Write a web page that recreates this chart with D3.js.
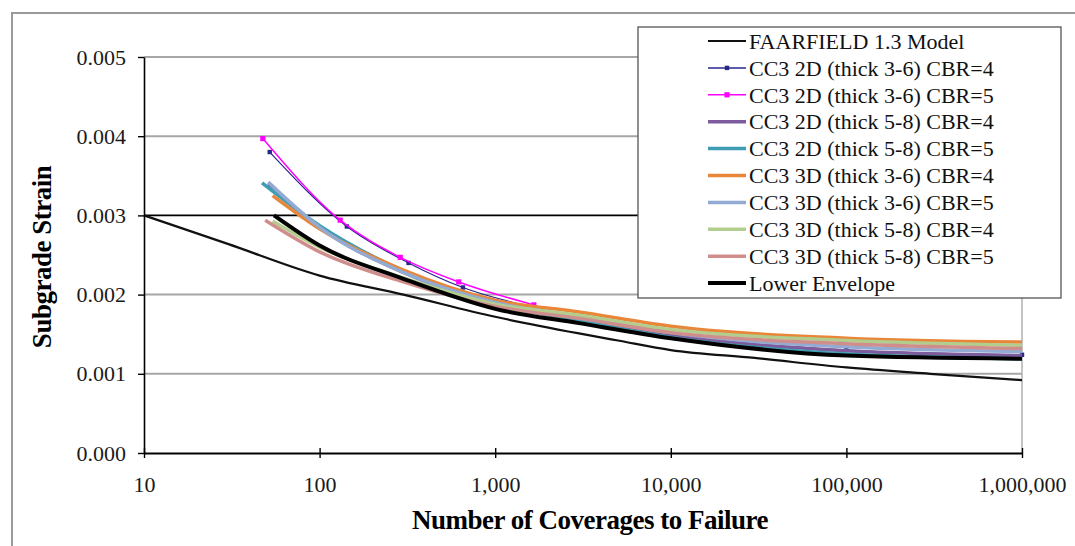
<!DOCTYPE html>
<html>
<head>
<meta charset="utf-8">
<script src="https://cdn.jsdelivr.net/npm/d3@7"></script>
<style>
  body { margin: 0; background: #fff; }
</style>
</head>
<body>
<div class="chart"></div>
<script>
// --- Data ---
const xTicks = [10, 100, 1000, 10000, 100000, 1000000];
const yTicks = [0, 0.001, 0.002, 0.003, 0.004, 0.005];

const faarN = [10, 30, 100, 300, 1000, 3000, 5000, 10000, 30000, 100000, 300000, 1000000];
const faarStrain = [0.00300, 0.00264, 0.00224, 0.00200, 0.00172, 0.00151, 0.00142, 0.00130, 0.00120, 0.00108, 0.00100, 0.00092];

const navyN = [52, 143, 321, 655, 1700, 10000, 100000, 1000000];
const navyStrain = [0.00380, 0.00286, 0.00240, 0.00209, 0.00183, 0.00150, 0.00130, 0.00124];

const magentaN = [47.5, 131, 288, 620, 1660];
const magentaStrain = [0.00397, 0.00294, 0.00247, 0.00216, 0.00187];

const purpleN = [51, 100, 300, 1000, 3000, 10000, 100000, 1000000];
const purpleStrain = [0.00340, 0.00285, 0.00228, 0.00188, 0.00168, 0.00148, 0.00129, 0.00123];

const tealN = [47, 100, 300, 1000, 3000, 10000, 100000, 1000000];
const tealStrain = [0.00341, 0.00287, 0.00230, 0.00190, 0.00167, 0.00146, 0.00125, 0.00119];

const orangeN = [54, 100, 300, 1000, 3000, 10000, 100000, 1000000];
const orangeStrain = [0.00325, 0.00283, 0.00231, 0.00193, 0.00178, 0.00160, 0.00145, 0.00140];

const lightBlueN = [51, 100, 300, 1000, 3000, 10000, 100000, 1000000];
const lightBlueStrain = [0.00342, 0.00285, 0.00228, 0.00190, 0.00172, 0.00152, 0.00134, 0.00128];

const greenN = [54, 100, 300, 1000, 3000, 10000, 100000, 1000000];
const greenStrain = [0.00293, 0.00260, 0.00221, 0.00188, 0.00174, 0.00156, 0.00142, 0.00136];

const pinkN = [49, 100, 300, 1000, 3000, 10000, 100000, 1000000];
const pinkStrain = [0.00294, 0.00254, 0.00216, 0.00185, 0.00170, 0.00152, 0.00138, 0.00132];

const envelopeN = [55, 100, 300, 1000, 3000, 10000, 100000, 1000000];
const envelopeStrain = [0.00300, 0.00262, 0.00220, 0.00182, 0.00164, 0.00145, 0.00123, 0.00119];

const seriesNames = [
  "FAARFIELD 1.3 Model",
  "CC3 2D (thick 3-6) CBR=4",
  "CC3 2D (thick 3-6) CBR=5",
  "CC3 2D (thick 5-8) CBR=4",
  "CC3 2D (thick 5-8) CBR=5",
  "CC3 3D (thick 3-6) CBR=4",
  "CC3 3D (thick 3-6) CBR=5",
  "CC3 3D (thick 5-8) CBR=4",
  "CC3 3D (thick 5-8) CBR=5",
  "Lower Envelope"
];

const SERIF = "'Liberation Serif', 'Times New Roman', Times, serif";

const zip = (ns, vs) => ns.map((n, i) => ({ n: n, v: vs[i] }));

// series table (draw order = legend order)
const series = [
  { name: seriesNames[0], data: zip(faarN, faarStrain), color: "#111", width: 2.2 },
  { name: seriesNames[1], data: zip(navyN, navyStrain), color: "#27278c", width: 1.2, marker: 2.2 },
  { name: seriesNames[2], data: zip(magentaN, magentaStrain), color: "#ff00ff", width: 1.5, marker: 2.6 },
  { name: seriesNames[3], data: zip(purpleN, purpleStrain), color: "#7c5c9c", width: 3.5 },
  { name: seriesNames[4], data: zip(tealN, tealStrain), color: "#3e9cb3", width: 3.5 },
  { name: seriesNames[5], data: zip(orangeN, orangeStrain), color: "#e8873a", width: 3.5 },
  { name: seriesNames[6], data: zip(lightBlueN, lightBlueStrain), color: "#93abd2", width: 3.5 },
  { name: seriesNames[7], data: zip(greenN, greenStrain), color: "#b3cd8e", width: 3.5 },
  { name: seriesNames[8], data: zip(pinkN, pinkStrain), color: "#cf8e8c", width: 3.5 },
  { name: seriesNames[9], data: zip(envelopeN, envelopeStrain), color: "#000", width: 4 }
];

// --- Layout ---
const W = 1075, H = 546;
const plot = { left: 144, right: 1022, top: 57, bottom: 453 };

const svg = d3.select(".chart").append("svg")
  .attr("width", W)
  .attr("height", H);

// outer chart frame (cropped at right/bottom)
svg.append("path")
  .attr("d", `M12,${H} L12,13 L${W},13`)
  .attr("fill", "none")
  .attr("stroke", "#9a9a9a")
  .attr("stroke-width", 2);

const x = d3.scaleLog().domain([10, 1000000]).range([plot.left, plot.right]);
const y = d3.scaleLinear().domain([0, 0.005]).range([plot.bottom, plot.top]);

// gridlines
svg.append("g")
  .selectAll("line")
  .data(yTicks.filter(d => d > 0))
  .enter().append("line")
  .attr("x1", plot.left).attr("x2", plot.right)
  .attr("y1", d => y(d)).attr("y2", d => y(d))
  .attr("stroke", d => d === 0.003 ? "#000" : "#a6a6a6")
  .attr("stroke-width", d => d === 0.003 ? 1.6 : 2);

// plot area right border
svg.append("line")
  .attr("x1", plot.right).attr("x2", plot.right)
  .attr("y1", plot.top).attr("y2", plot.bottom)
  .attr("stroke", "#b0b0b0")
  .attr("stroke-width", 1.5);

// series lines
const line = d3.line()
  .x(d => x(d.n))
  .y(d => y(d.v))
  .curve(d3.curveMonotoneX);

series.forEach(s => {
  svg.append("path")
    .datum(s.data)
    .attr("fill", "none")
    .attr("stroke", s.color)
    .attr("stroke-width", s.width)
    .attr("stroke-linejoin", "round")
    .attr("d", line);
  if (s.marker) {
    svg.append("g").selectAll("rect")
      .data(s.data)
      .enter().append("rect")
      .attr("x", d => x(d.n) - s.marker)
      .attr("y", d => y(d.v) - s.marker)
      .attr("width", s.marker * 2)
      .attr("height", s.marker * 2)
      .attr("fill", s.color);
  }
});

// axes
const yAxis = d3.axisLeft(y)
  .tickValues(yTicks)
  .tickFormat(d3.format(".3f"))
  .tickSize(6)
  .tickSizeOuter(0)
  .tickPadding(12);

const gy = svg.append("g")
  .attr("transform", `translate(${plot.left},0)`)
  .call(yAxis);
gy.select(".domain").attr("stroke", "#000").attr("stroke-width", 1.6);
gy.selectAll(".tick line").attr("stroke", "#000").attr("stroke-width", 1.4);
gy.selectAll("text")
  .style("font-family", SERIF)
  .style("font-size", "22px")
  .style("fill", "#1a1a1a");

const xAxis = d3.axisBottom(x)
  .tickValues(xTicks)
  .tickFormat(d3.format(","))
  .tickSize(5)
  .tickSizeOuter(0)
  .tickPadding(18);

const gx = svg.append("g")
  .attr("transform", `translate(0,${plot.bottom})`)
  .call(xAxis);
gx.select(".domain").attr("stroke", "#000").attr("stroke-width", 1.8);
gx.selectAll(".tick line")
  .attr("y1", -5)
  .attr("stroke", "#000")
  .attr("stroke-width", 1.4);
gx.selectAll("text")
  .style("font-family", SERIF)
  .style("font-size", "22px")
  .style("fill", "#1a1a1a");

// axis titles
svg.append("text")
  .attr("transform", "translate(51,257) rotate(-90)")
  .attr("text-anchor", "middle")
  .style("font-family", SERIF)
  .style("font-size", "27px")
  .style("font-weight", "bold")
  .style("letter-spacing", "-0.5px")
  .text("Subgrade Strain");

svg.append("text")
  .attr("x", 590)
  .attr("y", 529)
  .attr("text-anchor", "middle")
  .style("font-family", SERIF)
  .style("font-size", "27px")
  .style("font-weight", "bold")
  .style("letter-spacing", "-0.5px")
  .text("Number of Coverages to Failure");

// legend
const legend = svg.append("g");
legend.append("rect")
  .attr("x", 638).attr("y", 27)
  .attr("width", 423).attr("height", 271)
  .attr("fill", "#fff")
  .attr("stroke", "#555")
  .attr("stroke-width", 1.3);

const row = legend.selectAll("g.item")
  .data(series)
  .enter().append("g")
  .attr("class", "item")
  .attr("transform", (d, i) => `translate(0,${41 + i * 26.9})`);

row.append("line")
  .attr("x1", 708).attr("x2", 746)
  .attr("stroke", d => d.color)
  .attr("stroke-width", d => Math.max(d.width, 1.5));

row.filter(d => d.marker).append("rect")
  .attr("x", d => 727 - d.marker)
  .attr("y", d => -d.marker)
  .attr("width", d => d.marker * 2)
  .attr("height", d => d.marker * 2)
  .attr("fill", d => d.color);

row.append("text")
  .attr("x", 749)
  .attr("dy", "0.35em")
  .style("font-family", SERIF)
  .style("font-size", "22px")
  .style("fill", "#111")
  .text(d => d.name);
</script>
</body>
</html>
